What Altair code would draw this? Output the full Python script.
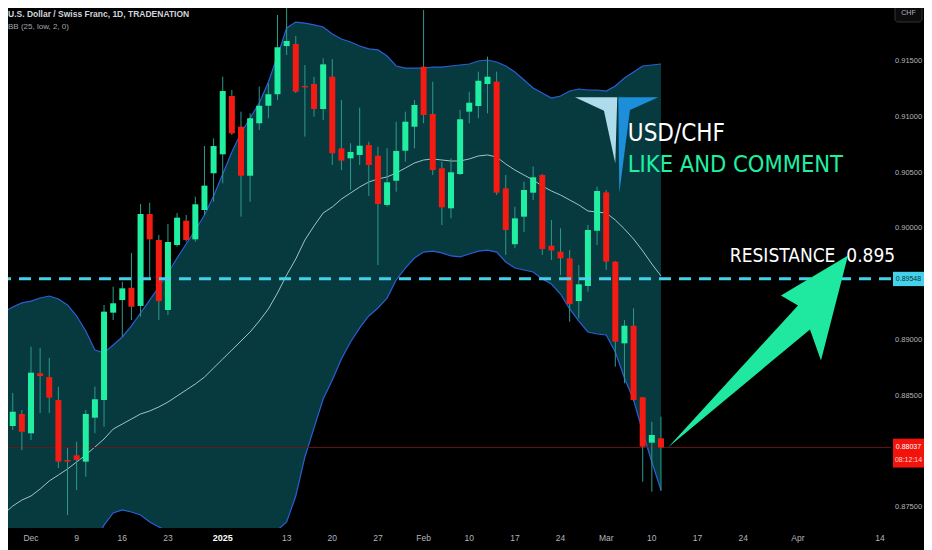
import altair as alt
import pandas as pd

# ---------------- data ----------------
# bar index 0 = 2 Dec 2024 (trading days only, 25 Dec and 1 Jan absent)
idx = list(range(-3, 70))
opens = [0.88671, 0.88229, 0.88337, 0.88164, 0.88702, 0.88668, 0.88462, 0.87925, 0.87967, 0.87910,
         0.88304, 0.88462, 0.89245, 0.89358, 0.89468, 0.89305, 0.90129, 0.89896, 0.89269, 0.89851,
         0.90069, 0.89902, 0.90165, 0.90494, 0.90664, 0.91186, 0.90911, 0.90472, 0.90942, 0.91099,
         0.91202, 0.91634, 0.91652, 0.91276, 0.91294, 0.91070, 0.91359, 0.90718, 0.90628, 0.90658,
         0.90747, 0.90651, 0.90210, 0.90427, 0.90696, 0.90911, 0.91449, 0.91025, 0.90539, 0.90180,
         0.90487, 0.91046, 0.91097, 0.91294, 0.91315, 0.90359, 0.89858, 0.90105, 0.90320, 0.90478,
         0.89845, 0.89791, 0.89732, 0.89349, 0.89484, 0.89979, 0.90323, 0.89702, 0.88970, 0.89128,
         0.88487, 0.88080, 0.88119]
highs = [0.88716, 0.88525, 0.88373, 0.88940, 0.88928, 0.88839, 0.88582, 0.88032, 0.88089, 0.88373,
         0.88582, 0.89314, 0.89478, 0.89522, 0.89780, 0.90219, 0.90230, 0.89941, 0.90039, 0.90138,
         0.90120, 0.90284, 0.90738, 0.90807, 0.91359, 0.91240, 0.91046, 0.91031, 0.91270, 0.91300,
         0.91912, 0.91975, 0.91724, 0.91464, 0.91359, 0.91524, 0.91518, 0.91151, 0.90763, 0.91082,
         0.90777, 0.90732, 0.90718, 0.90956, 0.91046, 0.91151, 0.91957, 0.91315, 0.90598, 0.90628,
         0.91061, 0.91225, 0.91404, 0.91539, 0.91404, 0.90478, 0.90194, 0.90418, 0.90555, 0.90487,
         0.90075, 0.90001, 0.89806, 0.89672, 0.90030, 0.90374, 0.90344, 0.89708, 0.89179, 0.89284,
         0.88489, 0.88268, 0.88313]
lows = [0.88077, 0.88194, 0.88014, 0.88104, 0.88346, 0.88346, 0.87853, 0.87432, 0.87656, 0.87775,
        0.88164, 0.88223, 0.89179, 0.89030, 0.89179, 0.89209, 0.89556, 0.89179, 0.89224, 0.89836,
        0.89881, 0.89881, 0.90120, 0.90239, 0.90404, 0.90837, 0.90105, 0.90239, 0.90882, 0.90987,
        0.91151, 0.91554, 0.91213, 0.90822, 0.91001, 0.90971, 0.90568, 0.90523, 0.90344, 0.90568,
        0.90290, 0.89672, 0.90194, 0.90329, 0.90598, 0.90718, 0.90942, 0.90478, 0.90030, 0.90090,
        0.90478, 0.90942, 0.90987, 0.91031, 0.90299, 0.89762, 0.89822, 0.89968, 0.90254, 0.89762,
        0.89717, 0.89582, 0.89164, 0.89194, 0.89433, 0.89851, 0.89627, 0.88761, 0.88612, 0.88453,
        0.87730, 0.87641, 0.87647]
closes = [0.88245, 0.88358, 0.88178, 0.88707, 0.88677, 0.88483, 0.87910, 0.87911, 0.87925, 0.88337,
          0.88469, 0.89254, 0.89329, 0.89463, 0.89298, 0.90129, 0.89902, 0.89349, 0.89878, 0.90096,
          0.89896, 0.90216, 0.90383, 0.90738, 0.91231, 0.90852, 0.90472, 0.90987, 0.91099, 0.91202,
          0.91623, 0.91679, 0.91225, 0.91264, 0.91070, 0.91470, 0.90673, 0.90607, 0.90685, 0.90741,
          0.90568, 0.90219, 0.90413, 0.90694, 0.90956, 0.91106, 0.91016, 0.90523, 0.90189, 0.90503,
          0.90978, 0.91126, 0.91323, 0.91359, 0.90320, 0.89986, 0.90090, 0.90344, 0.90458, 0.89815,
          0.89802, 0.89732, 0.89323, 0.89499, 0.89986, 0.90335, 0.89702, 0.88985, 0.89128, 0.88462,
          0.88044, 0.88149, 0.88037]

band_idx = list(range(-4, 70))
bb_upper = [0.89197, 0.89251, 0.89296, 0.89332, 0.89349, 0.89376, 0.89394, 0.89367, 0.89314, 0.89215,
            0.89081, 0.88910, 0.88884, 0.88955, 0.89027, 0.89126, 0.89242, 0.89358, 0.89475, 0.89600,
            0.89735, 0.89860, 0.89986, 0.90120, 0.90290, 0.90487, 0.90685, 0.90855, 0.90989, 0.91124,
            0.91312, 0.91545, 0.91796, 0.91849, 0.91840, 0.91823, 0.91805, 0.91742, 0.91697, 0.91670,
            0.91634, 0.91608, 0.91599, 0.91545, 0.91455, 0.91437, 0.91437, 0.91437, 0.91446, 0.91446,
            0.91455, 0.91464, 0.91473, 0.91500, 0.91509, 0.91491, 0.91455, 0.91401, 0.91330, 0.91258,
            0.91213, 0.91168, 0.91186, 0.91231, 0.91249, 0.91240, 0.91240, 0.91231, 0.91276, 0.91348,
            0.91401, 0.91455, 0.91464, 0.91473]
bb_mid = [0.87369, 0.87441, 0.87512, 0.87566, 0.87602, 0.87665, 0.87737, 0.87790, 0.87844, 0.87907,
          0.87970, 0.88041, 0.88113, 0.88202, 0.88247, 0.88292, 0.88337, 0.88364, 0.88400, 0.88444,
          0.88498, 0.88552, 0.88606, 0.88668, 0.88749, 0.88830, 0.88910, 0.88991, 0.89072, 0.89170,
          0.89278, 0.89421, 0.89582, 0.89726, 0.89896, 0.90022, 0.90138, 0.90192, 0.90263, 0.90317,
          0.90371, 0.90416, 0.90443, 0.90461, 0.90496, 0.90541, 0.90586, 0.90613, 0.90622, 0.90613,
          0.90604, 0.90604, 0.90622, 0.90649, 0.90658, 0.90640, 0.90577, 0.90523, 0.90478, 0.90434,
          0.90380, 0.90335, 0.90299, 0.90255, 0.90210, 0.90156, 0.90147, 0.90138, 0.90075, 0.89995,
          0.89905, 0.89798, 0.89681, 0.89574]
bb_lower = [0.85541, 0.85631, 0.85729, 0.85801, 0.85864, 0.85953, 0.86079, 0.86213, 0.86375, 0.86599,
            0.86858, 0.87172, 0.87342, 0.87450, 0.87477, 0.87459, 0.87432, 0.87369, 0.87324, 0.87289,
            0.87262, 0.87244, 0.87226, 0.87217, 0.87208, 0.87172, 0.87136, 0.87127, 0.87154, 0.87217,
            0.87244, 0.87298, 0.87369, 0.87602, 0.87952, 0.88212, 0.88471, 0.88642, 0.88830, 0.88982,
            0.89108, 0.89215, 0.89287, 0.89376, 0.89538, 0.89645, 0.89735, 0.89788, 0.89797, 0.89780,
            0.89753, 0.89744, 0.89771, 0.89797, 0.89806, 0.89788, 0.89699, 0.89645, 0.89627, 0.89609,
            0.89547, 0.89502, 0.89412, 0.89278, 0.89170, 0.89072, 0.89054, 0.89045, 0.88892, 0.88659,
            0.88462, 0.88176, 0.87907, 0.87656]

tick_idx = [0, 5, 10, 15, 21, 28, 33, 38, 43, 48, 53, 58, 63, 68, 73, 78, 84, 93]
tick_labels = ["Dec", "9", "16", "23", "2025", "13", "20", "27", "Feb", "10", "17", "24",
               "Mar", "10", "17", "24", "Apr", "14"]
# 0.880 and 0.895 sit under the price boxes in the reference
price_ticks = [0.875, 0.885, 0.890, 0.900, 0.905, 0.910, 0.915]

resistance = 0.89548
last_price = 0.88037
countdown = "08:12:14"

title_text = "U.S. Dollar / Swiss Franc, 1D, TRADENATION"
indicator_text = "BB (25, low, 2, 0)"
headline = "USD/CHF"
subline = "LIKE AND COMMENT"
res_text = "RESISTANCE\u00a0\u00a00.895"

# annotation anchors (bar index, price)
head_pos = (65.37, 0.90783)
sub_pos = (65.37, 0.90505)
res_pos = (76.54, 0.89699)
logo_pos = (69, 0.91175)

# ---------------- styling ----------------
W, H = 883, 520
GREEN = "#20efa2"
RED = "#f41b12"
WICK = "#2e9a8c"
FILL = "#063a3e"
BANDLINE = "#2a5fd6"
MIDLINE = "#b4d2d2"
CYAN = "#44d2ea"
FONT = "Liberation Sans"
BIGFONT = "Liberation Sans Narrow, DejaVu Sans Condensed, Roboto, sans-serif"

xs = alt.Scale(domain=[-2.519, 94.195], nice=False, zero=False, padding=0)
ys = alt.Scale(domain=[0.873154, 0.919749], nice=False, zero=False, padding=0)

candles = pd.DataFrame({"idx": idx, "open": opens, "high": highs, "low": lows, "close": closes})
bands = pd.DataFrame({"idx": band_idx, "upper": bb_upper, "mid": bb_mid, "lower": bb_lower})
ticks = pd.DataFrame({"idx": tick_idx, "label": tick_labels})
ticks["bold"] = ticks["label"] == "2025"
pticks = pd.DataFrame({"price": price_ticks, "txt": [f"{p:.5f}" for p in price_ticks]})


def X(field="idx"):
    return alt.X(f"{field}:Q", scale=xs, axis=None)


def Y(field):
    return alt.Y(f"{field}:Q", scale=ys, axis=None, title=None)


area = alt.Chart(bands).mark_area(color=FILL, clip=True).encode(
    x=X(), y=Y("upper"), y2="lower:Q")
mid_line = alt.Chart(bands).mark_line(color=MIDLINE, strokeWidth=1, opacity=0.9, clip=True).encode(
    x=X(), y=Y("mid"))
up_line = alt.Chart(bands).mark_line(color=BANDLINE, strokeWidth=1.2, clip=True).encode(
    x=X(), y=Y("upper"))
lo_line = alt.Chart(bands).mark_line(color=BANDLINE, strokeWidth=1.2, clip=True).encode(
    x=X(), y=Y("lower"))

# price scale labels
ylabels = alt.Chart(pticks).mark_text(font=FONT, fontSize=7.5, color="#b2b5be", align="left",
                                      baseline="middle", clip=False).encode(
    x=alt.value(887), y=Y("price"), text="txt:N")

levels = pd.DataFrame({"price": [last_price]})
price_line = alt.Chart(levels).mark_rule(color="#6e1717", strokeWidth=1, opacity=0.9).encode(
    y=Y("price"))

wicks = alt.Chart(candles).mark_rule(color=WICK, strokeWidth=1, clip=True).encode(
    x=X(), y=Y("low"), y2="high:Q")
bodies = alt.Chart(candles).mark_bar(size=6, clip=True).encode(
    x=X(), y=Y("open"), y2="close:Q",
    color=alt.condition("datum.close > datum.open", alt.value(GREEN), alt.value(RED)))

res_df = pd.DataFrame({"price": [resistance]})
res_line = alt.Chart(res_df).mark_rule(color=CYAN, strokeWidth=3, strokeDash=[12, 8]).encode(
    y=Y("price"))

# label boxes on the price scale
box_df = pd.DataFrame({
    "top": [resistance + 0.00063, last_price + 0.00079],
    "bottom": [resistance - 0.00065, last_price - 0.00180],
    "fill": [CYAN, "#f2140c"],
})
boxes = alt.Chart(box_df).mark_rect(clip=False).encode(
    x=alt.value(885), x2=alt.value(916), y=Y("top"), y2="bottom:Q",
    color=alt.Color("fill:N", scale=None))
box_txt = pd.DataFrame({
    "price": [resistance, last_price + 0.00003, last_price - 0.00112],
    "txt": [f"{resistance:.5f}", f"{last_price:.5f}", countdown],
    "col": ["#0b3440", "#ffffff", "#ffd6d6"],
})
box_text = alt.Chart(box_txt).mark_text(font=FONT, fontSize=7, align="center",
                                        baseline="middle", clip=False).encode(
    x=alt.value(900.5), y=Y("price"), text="txt:N", color=alt.Color("col:N", scale=None))

# x labels
xl_norm = alt.Chart(ticks[~ticks["bold"]]).mark_text(
    font=FONT, fontSize=8.5, color="#b2b5be", baseline="middle", clip=False).encode(
    x=X(), y=alt.value(530), text="label:N")
xl_bold = alt.Chart(ticks[ticks["bold"]]).mark_text(
    font=FONT, fontSize=9, fontWeight="bold", color="#ffffff", baseline="middle", clip=False).encode(
    x=X(), y=alt.value(530), text="label:N")

# annotations
ann = pd.DataFrame({
    "idx": [head_pos[0], sub_pos[0], res_pos[0]],
    "price": [head_pos[1], sub_pos[1], res_pos[1]],
    "txt": [headline, subline, res_text],
    "col": ["#ffffff", GREEN, "#ffffff"],
    "size": [24, 23.5, 19],
})
ann_text = alt.Chart(ann).mark_text(font=BIGFONT, align="left", baseline="alphabetic",
                                    clip=False).encode(
    x=X(), y=Y("price"), text="txt:N", color=alt.Color("col:N", scale=None),
    size=alt.Size("size:Q", scale=None))

arrow_df = pd.DataFrame({"idx": [idx[-1]], "price": [closes[-1]]})
arrow = alt.Chart(arrow_df).mark_point(
    shape="M 7 0 L 137 -142 L 120 -152 L 187 -192 L 160 -87 L 149 -118 Z",
    size=4, filled=True, fill="#1fe9a0", strokeWidth=0, opacity=1, clip=False).encode(
    x=X(), y=Y("price"))

logo_df = pd.DataFrame({"idx": [logo_pos[0]], "price": [logo_pos[1]]})
logo_light = alt.Chart(logo_df).mark_point(
    shape="M -86 0 L -43.7 0 L -45.7 66 L -57 13.4 Z",
    size=4, filled=True, fill="#aedcea", strokeWidth=0, opacity=1, clip=False).encode(
    x=X(), y=Y("price"))
logo_dark = alt.Chart(logo_df).mark_point(
    shape="M -42.7 0 L -2.7 0 L -31 12.7 L -41.7 96 Z",
    size=4, filled=True, fill="#1d8fda", strokeWidth=0, opacity=1, clip=False).encode(
    x=X(), y=Y("price"))

# header texts and CHF box
hdr = pd.DataFrame({"txt": [title_text, indicator_text]})
title_t = alt.Chart(hdr.iloc[[0]]).mark_text(font=FONT, fontSize=8.5, fontWeight="bold",
                                             color="#d1d4dc", align="left", baseline="middle").encode(
    x=alt.value(0), y=alt.value(6), text="txt:N")
ind_t = alt.Chart(hdr.iloc[[1]]).mark_text(font=FONT, fontSize=8, color="#a3a6af",
                                           align="left", baseline="middle").encode(
    x=alt.value(0), y=alt.value(19), text="txt:N")
chf_df = pd.DataFrame({"txt": ["CHF"]})
chf_box = alt.Chart(chf_df).mark_rect(fill="#0c0c0c", stroke="#2f323b", strokeWidth=1,
                                      cornerRadius=3, clip=False).encode(
    x=alt.value(887), x2=alt.value(914), y=alt.value(-6), y2=alt.value(14))
chf_t = alt.Chart(chf_df).mark_text(font=FONT, fontSize=7, color="#b2b5be",
                                    baseline="middle", clip=False).encode(
    x=alt.value(900.5), y=alt.value(5), text="txt:N")

chart = alt.layer(
    area, mid_line, up_line, lo_line, ylabels, price_line, wicks, bodies, res_line,
    boxes, box_text, xl_norm, xl_bold, arrow, logo_light, logo_dark, ann_text,
    title_t, ind_t, chf_box, chf_t
).properties(
    width=W, height=H,
    autosize=alt.AutoSizeParams(type="none"),
    padding={"left": 0, "top": 0, "right": 33, "bottom": 22},
    background="#000000",
).configure_view(stroke=None)

chart.save("out.html", embed_options={"renderer": "svg", "actions": False})
